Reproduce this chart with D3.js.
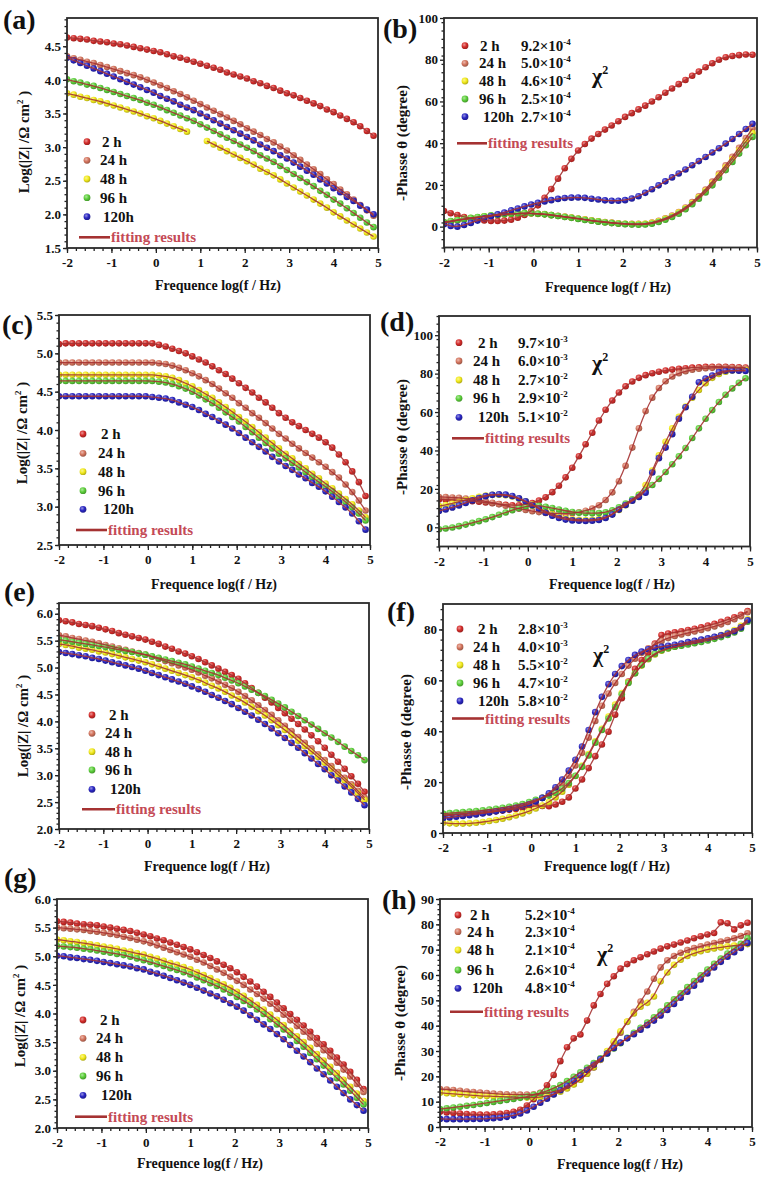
<!DOCTYPE html>
<html><head><meta charset="utf-8">
<script src="https://cdn.jsdelivr.net/npm/d3@7/dist/d3.min.js"></script>
<style>
html,body{margin:0;padding:0;background:#fff;}
svg{display:block;}
text{font-family:"Liberation Serif","Times New Roman",serif;font-weight:bold;}
</style></head><body>
<svg id="chart" width="762" height="1178"></svg>
<script>
// ---------- frequency grid (log f / Hz) ----------
const logF=[-2.00,-1.85,-1.70,-1.55,-1.40,-1.25,-1.10,-0.95,-0.80,-0.65,-0.50,-0.35,-0.20,-0.05,0.10,0.25,0.40,0.55,0.70,0.85,1.00,1.15,1.30,1.45,1.60,1.75,1.90,2.05,2.20,2.35,2.50,2.65,2.80,2.95,3.10,3.25,3.40,3.55,3.70,3.85,4.00,4.15,4.30,4.45,4.60,4.75,4.90];

// ---------- panel (a) log|Z| ----------
const a2=[4.63,4.62,4.61,4.60,4.58,4.57,4.56,4.54,4.53,4.51, 4.49,4.47,4.45,4.43,4.41,4.38,4.35,4.33,4.30,4.27, 4.24,4.21,4.18,4.15,4.11,4.08,4.05,4.02,3.98,3.95, 3.91,3.88,3.84,3.80,3.77,3.73,3.69,3.65,3.61,3.56, 3.52,3.47,3.42,3.37,3.31,3.24,3.17];
const a24=[4.35,4.32,4.30,4.27,4.25,4.22,4.19,4.16,4.13,4.10, 4.07,4.04,4.00,3.96,3.92,3.88,3.83,3.79,3.74,3.69, 3.64,3.59,3.54,3.49,3.44,3.39,3.34,3.28,3.23,3.18, 3.12,3.07,3.01,2.95,2.88,2.81,2.74,2.67,2.60,2.52, 2.45,2.37,2.30,2.22,2.14,2.06,1.98];
const a48=[3.80,3.78,3.75,3.73,3.70,3.68,3.65,3.62,3.59,3.56, 3.53,3.50,3.46,3.43,3.39,3.35,3.31,3.27,3.23,null, null,3.09,3.04,2.99,2.94,2.89,2.84,2.79,2.74,2.68, 2.63,2.58,2.52,2.46,2.40,2.34,2.28,2.22,2.16,2.10, 2.03,1.97,1.91,1.85,1.79,1.73,1.67];
const a96=[4.01,3.98,3.96,3.93,3.91,3.88,3.85,3.82,3.79,3.76, 3.73,3.70,3.66,3.63,3.59,3.55,3.51,3.47,3.43,3.39, 3.34,3.29,3.24,3.19,3.14,3.09,3.04,2.99,2.94,2.88, 2.83,2.78,2.72,2.66,2.60,2.54,2.48,2.42,2.35,2.29, 2.22,2.16,2.09,2.02,1.95,1.88,1.81];
const a120=[4.33,4.29,4.25,4.21,4.17,4.13,4.09,4.05,4.01,3.97, 3.93,3.89,3.85,3.81,3.76,3.72,3.68,3.63,3.59,3.55, 3.50,3.45,3.40,3.35,3.30,3.25,3.20,3.15,3.10,3.04, 2.99,2.94,2.88,2.83,2.77,2.71,2.65,2.59,2.52,2.46, 2.39,2.33,2.26,2.20,2.13,2.07,2.00];

// ---------- panel (b) -phase ----------
const b2=[7.5,6.4,5.5,4.6,4.0,3.4,3.0,2.7,2.7,2.9, 3.3,4.3,5.6,7.4,10.2,13.8,18.0,23.0,28.0,32.5, 36.5,39.6,42.2,44.4,46.5,48.5,50.5,52.6,54.4,56.2, 58.0,60.0,62.0,64.2,66.2,68.3,70.3,72.3,74.3,76.4, 78.3,80.0,81.2,81.8,82.2,82.5,82.4];
const b24=[1.8,2.4,3.0,3.5,4.0,4.4,4.8,5.2,5.5,5.8, 6.1,6.3,6.4,6.4,6.2,6.0,5.6,5.2,4.8,4.4, 3.9,3.5,3.0,2.6,2.2,1.9,1.6,1.4,1.3,1.3, 1.4,1.9,2.8,4.0,5.3,7.0,9.2,11.8,14.6,17.8, 21.6,25.5,29.4,33.5,37.8,42.4,47.0];
const b48=[2.0,2.5,3.1,3.6,4.1,4.5,4.9,5.3,5.6,5.9, 6.1,6.3,6.4,6.3,6.1,5.9,5.5,5.1,4.7,4.3, 3.8,3.4,2.9,2.5,2.1,1.8,1.5,1.3,1.2,1.2, 1.3,1.8,2.6,3.7,5.0,6.7,8.8,11.3,14.1,17.2, 20.8,24.6,28.4,32.4,36.6,40.8,44.8];
const b96=[2.2,2.7,3.2,3.7,4.2,4.6,5.0,5.4,5.7,6.0, 6.2,6.4,6.5,6.4,6.2,5.9,5.5,5.1,4.6,4.2, 3.7,3.2,2.8,2.4,2.0,1.7,1.4,1.2,1.0,0.9, 1.0,1.4,2.2,3.3,4.6,6.2,8.3,10.7,13.4,16.4, 19.8,23.4,27.1,31.0,35.0,39.0,43.0];
const b120=[1.2,0.3,0.0,0.8,1.8,2.9,4.0,5.0,5.9,6.8, 7.8,8.7,9.7,10.6,11.4,12.1,12.7,13.3,13.7,13.9, 14.0,13.8,13.4,13.0,12.6,12.4,12.4,12.7,13.5,14.6, 16.2,17.9,19.8,21.7,23.6,25.5,27.4,29.4,31.4,33.4, 35.5,37.6,39.8,42.0,44.4,46.8,49.3];

// ---------- panel (c) log|Z| ----------
const c2=[5.12,5.13,5.13,5.13,5.13,5.13,5.13,5.13,5.13,5.13, 5.13,5.13,5.13,5.13,5.13,5.11,5.09,5.06,5.03,5.00, 4.96,4.92,4.88,4.83,4.78,4.73,4.67,4.61,4.55,4.49, 4.42,4.36,4.29,4.22,4.16,4.10,4.05,4.00,3.95,3.90, 3.84,3.77,3.68,3.58,3.46,3.32,3.14];
const c24=[4.88,4.88,4.88,4.88,4.88,4.88,4.88,4.88,4.88,4.88, 4.88,4.88,4.88,4.88,4.88,4.87,4.86,4.84,4.81,4.78, 4.74,4.70,4.65,4.60,4.54,4.48,4.42,4.35,4.29,4.22, 4.16,4.09,4.02,3.95,3.89,3.82,3.76,3.70,3.64,3.58, 3.52,3.45,3.38,3.29,3.19,3.08,2.95];
const c48=[4.72,4.72,4.72,4.72,4.72,4.72,4.72,4.72,4.72,4.72, 4.72,4.72,4.72,4.72,4.72,4.71,4.70,4.68,4.65,4.61, 4.57,4.52,4.47,4.42,4.36,4.30,4.24,4.17,4.11,4.04, 3.97,3.90,3.83,3.76,3.69,3.63,3.56,3.50,3.43,3.37, 3.30,3.24,3.17,3.10,3.03,2.95,2.86];
const c96=[4.64,4.64,4.64,4.64,4.64,4.64,4.64,4.64,4.64,4.64, 4.64,4.64,4.64,4.64,4.64,4.63,4.62,4.60,4.57,4.54, 4.50,4.45,4.40,4.35,4.29,4.23,4.17,4.11,4.04,3.97, 3.90,3.83,3.76,3.69,3.63,3.57,3.51,3.45,3.38,3.32, 3.26,3.20,3.13,3.06,2.99,2.91,2.82];
const c120=[4.44,4.44,4.44,4.44,4.44,4.44,4.44,4.44,4.44,4.44, 4.44,4.44,4.44,4.44,4.43,4.42,4.41,4.39,4.36,4.33, 4.30,4.26,4.21,4.17,4.12,4.07,4.02,3.96,3.90,3.84, 3.78,3.72,3.65,3.59,3.53,3.48,3.42,3.37,3.31,3.26, 3.20,3.13,3.06,2.99,2.91,2.81,2.70];

// ---------- panel (d) -phase ----------
const d2=[14.5,14.4,14.3,14.1,13.9,13.6,13.3,12.9,12.5,12.1, 11.7,11.5,11.5,11.8,12.6,13.9,15.6,18.3,21.6,26.0, 31.0,37.0,43.2,49.2,55.6,61.2,66.0,70.2,73.4,75.9, 77.8,79.2,80.2,81.0,81.6,82.1,82.5,82.8,83.1,83.3, 83.5,83.6,83.6,83.5,83.4,83.3,83.2];
const d24=[15.8,15.7,15.5,15.3,15.0,14.6,14.1,13.5,12.8,12.0, 11.2,10.4,9.7,9.0,8.4,7.9,7.5,7.2,7.1,7.1, 7.3,7.8,8.6,9.8,11.5,14.2,18.2,24.0,32.0,41.5, 51.5,60.5,67.5,72.5,76.0,78.5,80.2,81.3,82.0,82.5, 82.8,83.0,83.1,83.1,83.0,82.9,82.8];
const d48=[11.0,11.6,12.4,13.3,14.2,15.1,15.9,16.5,16.9,17.0, 16.7,16.0,14.9,13.5,11.8,10.0,8.2,6.7,5.5,4.7, 4.2,3.9,3.8,3.9,4.3,5.2,6.8,9.0,11.5,14.0, 17.0,22.0,29.5,37.5,44.5,51.5,57.5,62.8,67.5,71.5, 75.0,77.8,79.8,81.0,81.6,81.8,81.8];
const d96=[-1.0,-0.6,-0.1,0.6,1.4,2.3,3.2,4.2,5.3,6.5, 7.7,8.9,10.0,10.9,11.3,11.2,10.7,10.0,9.3,8.6, 8.0,7.6,7.4,7.3,7.4,7.8,8.8,10.4,12.4,14.6, 16.8,19.3,22.0,25.2,28.8,32.8,37.0,41.3,46.5,51.5, 56.5,61.0,65.2,69.0,72.3,75.2,77.6];
const d120=[8.5,9.3,10.3,11.4,12.7,14.0,15.2,16.2,16.9,17.2, 17.0,16.3,15.1,13.5,11.6,9.6,7.6,6.0,4.8,4.0, 3.6,3.4,3.3,3.4,3.8,4.8,6.6,9.2,11.6,13.8, 15.8,18.0,28.5,36.0,41.5,48.5,56.5,62.5,68.0,75.5, 77.5,79.0,80.8,81.5,81.6,81.5,81.4];

// ---------- panel (e) log|Z| ----------
const e2=[5.88,5.86,5.84,5.81,5.79,5.77,5.74,5.71,5.68,5.64, 5.61,5.58,5.55,5.52,5.48,5.44,5.39,5.35,5.30,5.26, 5.21,5.16,5.10,5.04,4.98,4.92,4.86,4.79,4.71,4.62, 4.53,4.44,4.35,4.25,4.15,4.05,3.95,3.85,3.74,3.63, 3.51,3.38,3.25,3.12,2.98,2.84,2.69];
const e24=[5.60,5.58,5.55,5.53,5.50,5.48,5.45,5.42,5.39,5.36, 5.33,5.30,5.27,5.24,5.20,5.16,5.12,5.08,5.04,5.00, 4.96,4.91,4.85,4.80,4.74,4.68,4.62,4.55,4.47,4.39, 4.30,4.21,4.12,4.02,3.92,3.82,3.71,3.60,3.50,3.39, 3.28,3.17,3.06,2.95,2.83,2.71,2.58];
const e48=[5.44,5.42,5.40,5.37,5.35,5.33,5.30,5.28,5.25,5.22, 5.19,5.16,5.13,5.10,5.06,5.02,4.98,4.94,4.90,4.86, 4.82,4.77,4.72,4.66,4.61,4.55,4.48,4.42,4.35,4.27, 4.19,4.11,4.02,3.93,3.84,3.74,3.64,3.54,3.44,3.34, 3.23,3.12,3.01,2.90,2.79,2.67,2.54];
const e96=[5.52,5.50,5.48,5.46,5.44,5.42,5.40,5.38,5.36,5.33, 5.31,5.29,5.26,5.24,5.21,5.18,5.15,5.12,5.09,5.06, 5.02,4.98,4.94,4.90,4.86,4.81,4.76,4.71,4.65,4.59, 4.53,4.47,4.40,4.33,4.26,4.18,4.10,4.02,3.94,3.86, 3.78,3.70,3.62,3.53,3.45,3.37,3.28];
const e120=[5.29,5.27,5.25,5.23,5.21,5.18,5.16,5.13,5.10,5.07, 5.04,5.01,4.98,4.94,4.90,4.86,4.82,4.78,4.74,4.70, 4.65,4.60,4.55,4.49,4.44,4.38,4.32,4.25,4.18,4.11, 4.03,3.95,3.87,3.78,3.69,3.60,3.51,3.41,3.31,3.21, 3.11,3.00,2.90,2.79,2.68,2.56,2.44];

// ---------- panel (f) -phase ----------
const f2=[6.8,7.0,7.1,7.3,7.5,7.7,7.9,8.2,8.5,8.8, 9.1,9.4,9.8,10.3,10.7,10.6,10.5,11.2,12.3,14.0, 17.5,21.0,25.5,30.2,34.8,39.8,46.5,53.0,59.5,64.5, 68.0,70.8,74.5,77.8,78.4,78.9,79.3,79.8,80.3,80.8, 81.5,82.2,83.0,83.8,84.8,85.8,87.2];
const f24=[7.0,7.2,7.4,7.6,7.8,8.0,8.3,8.6,8.9,9.3, 9.7,10.2,10.8,11.6,12.6,13.8,15.3,17.2,19.5,22.5, 26.5,31.5,37.5,44.0,50.0,54.8,59.0,62.5,65.8,68.5, 70.8,72.6,74.0,75.5,76.6,77.4,78.0,78.6,79.2,79.8, 80.5,81.2,82.0,82.9,84.0,85.2,86.8];
const f48=[4.0,3.8,3.7,3.7,3.8,4.0,4.3,4.7,5.1,5.6, 6.2,6.9,7.7,8.6,9.6,10.8,12.2,14.0,16.2,19.0, 22.4,26.4,31.0,36.0,41.0,45.8,50.5,55.0,59.2,62.8, 65.8,68.3,70.2,71.6,72.5,73.2,73.8,74.4,75.0,75.6, 76.3,77.0,77.8,78.7,79.8,81.4,84.0];
const f96=[7.6,7.8,8.0,8.2,8.4,8.6,8.9,9.2,9.5,9.9, 10.3,10.8,11.4,12.2,13.0,13.8,14.7,15.8,17.4,19.6, 22.5,26.0,30.5,35.5,40.5,45.0,49.5,54.5,59.0,62.8, 66.0,68.6,70.5,71.8,72.6,73.2,73.6,74.1,74.6,75.1, 75.7,76.3,77.0,77.8,78.8,80.3,83.0];
const f120=[5.8,6.1,6.4,6.7,7.0,7.3,7.7,8.1,8.5,8.9, 9.4,9.9,10.5,11.3,12.4,13.8,15.6,18.0,21.0,24.5, 28.8,34.0,40.5,47.5,53.5,58.5,62.5,65.6,68.0,70.0, 71.3,72.2,72.8,73.2,73.6,74.0,74.5,75.0,75.5,76.0, 76.5,77.1,77.7,78.4,79.3,80.8,83.6];

// ---------- panel (g) log|Z| ----------
const g2=[5.61,5.60,5.59,5.57,5.56,5.55,5.54,5.52,5.50,5.48, 5.46,5.44,5.41,5.38,5.35,5.31,5.28,5.24,5.20,5.16, 5.12,5.07,5.02,4.97,4.91,4.85,4.79,4.72,4.64,4.56, 4.47,4.38,4.29,4.19,4.09,3.99,3.89,3.79,3.68,3.57, 3.46,3.35,3.23,3.11,2.98,2.84,2.68];
const g24=[5.50,5.49,5.48,5.47,5.46,5.44,5.43,5.41,5.39,5.37, 5.34,5.32,5.29,5.26,5.23,5.19,5.15,5.11,5.07,5.03, 4.99,4.94,4.89,4.83,4.77,4.71,4.64,4.57,4.50,4.42, 4.34,4.26,4.17,4.08,3.98,3.88,3.78,3.68,3.58,3.47, 3.36,3.25,3.14,3.02,2.90,2.77,2.63];
const g48=[5.29,5.28,5.26,5.25,5.23,5.21,5.19,5.17,5.15,5.13, 5.10,5.08,5.05,5.03,4.99,4.96,4.92,4.88,4.85,4.81, 4.77,4.72,4.67,4.62,4.56,4.51,4.45,4.38,4.31,4.23, 4.15,4.07,3.98,3.89,3.80,3.70,3.60,3.50,3.40,3.29, 3.18,3.07,2.96,2.84,2.72,2.60,2.47];
const g96=[5.18,5.17,5.16,5.15,5.13,5.12,5.10,5.08,5.06,5.04, 5.02,4.99,4.96,4.93,4.90,4.86,4.83,4.79,4.76,4.72, 4.68,4.63,4.58,4.53,4.48,4.42,4.36,4.29,4.22,4.15, 4.07,3.99,3.90,3.81,3.72,3.62,3.52,3.42,3.31,3.20, 3.09,2.98,2.87,2.76,2.65,2.53,2.41];
const g120=[5.01,5.00,4.98,4.97,4.95,4.94,4.92,4.90,4.88,4.86, 4.84,4.82,4.79,4.77,4.73,4.70,4.66,4.62,4.58,4.54, 4.50,4.45,4.40,4.35,4.30,4.24,4.18,4.12,4.05,3.97, 3.89,3.81,3.73,3.64,3.55,3.45,3.35,3.25,3.15,3.04, 2.94,2.83,2.72,2.61,2.50,2.40,2.30];

// ---------- panel (h) -phase ----------
const h2=[6.0,5.7,5.5,5.3,5.1,5.0,4.9,4.9,5.0,5.2, 5.5,6.0,6.8,8.5,11.0,13.5,16.5,20.5,26.0,31.5, 35.0,36.5,42.0,48.0,52.5,56.5,59.5,62.5,64.3,65.8, 67.0,68.2,69.3,70.4,71.3,72.0,72.8,73.6,74.5,75.3, 76.0,76.6,80.8,80.4,78.0,79.6,80.6];
const h24=[15.0,14.8,14.6,14.3,14.0,13.8,13.6,13.4,13.2,13.0, 12.9,12.8,12.8,12.8,12.9,13.1,13.4,13.9,14.6,15.6, 17.0,18.8,21.0,23.5,26.5,29.8,33.4,37.2,41.5,45.5, 49.5,53.5,58.5,63.0,65.8,67.5,68.8,69.8,70.6,71.3, 72.0,72.6,73.2,73.8,74.5,75.4,76.5];
const h48=[13.5,13.3,13.1,12.9,12.7,12.5,12.3,12.2,12.1,12.0, 11.9,11.8,11.7,11.6,11.6,11.8,12.2,12.9,13.9,15.2, 16.8,18.7,21.0,23.6,26.6,30.0,33.8,37.8,41.6,44.8, 47.5,49.0,51.5,57.5,61.0,64.0,66.0,67.5,68.6,69.4, 70.0,70.5,70.9,71.3,71.6,71.9,72.2];
const h96=[7.1,7.4,7.7,8.0,8.4,8.7,9.1,9.5,9.9,10.3, 10.7,11.1,11.5,12.0,12.6,13.3,14.2,15.3,16.6,18.1, 19.8,21.6,23.4,25.2,27.1,29.0,31.0,33.1,35.2,37.2, 39.2,41.2,43.3,45.6,48.0,50.4,52.8,55.2,57.6,59.9, 62.2,64.4,66.5,68.5,70.4,72.3,74.5];
const h120=[3.2,3.1,3.1,3.1,3.1,3.2,3.2,3.3,3.5,3.7, 4.0,4.5,5.3,6.5,8.0,9.6,11.2,12.8,14.5,16.3, 18.2,20.3,22.5,24.6,26.8,29.0,31.2,33.3,35.0,36.6, 38.4,40.2,42.0,44.0,46.2,48.6,51.0,53.4,55.8,58.2, 60.6,63.0,65.2,67.2,69.0,70.7,72.6];

// ---------- labels / ticks / chi-square ----------
const seriesLabels=["2 h","24 h","48 h","96 h","120h"];
const xTickValues=[-2,-1,0,1,2,3,4,5];
const zTicksA=[1.5,2.0,2.5,3.0,3.5,4.0,4.5];
const zTicksC=[2.5,3.0,3.5,4.0,4.5,5.0,5.5];
const zTicksE=[2.0,2.5,3.0,3.5,4.0,4.5,5.0,5.5,6.0];
const zTicksG=[2.0,2.5,3.0,3.5,4.0,4.5,5.0,5.5,6.0];
const phTicksB=[0,20,40,60,80,100];
const phTicksD=[0,20,40,60,80,100];
const phTicksF=[0,20,40,60,80];
const phTicksH=[0,10,20,30,40,50,60,70,80,90];
const chiMantB=[9.2,5.0,4.6,2.5,2.7], chiExpB=[-4,-4,-4,-4,-4];
const chiMantD=[9.7,6.0,2.7,2.9,5.1], chiExpD=[-3,-3,-2,-2,-2];
const chiMantF=[2.8,4.0,5.5,4.7,5.8], chiExpF=[-3,-3,-2,-2,-2];
const chiMantH=[5.2,2.3,2.1,2.6,4.8], chiExpH=[-4,-4,-4,-4,-4];
const xTitleText="Frequence log(f / Hz)";
const phTitleText="-Phasse \u03b8 (degree)";

// ---------- styles ----------
const colors=["#d42c2a","#d4755e","#f2ea1c","#5ccf3a","#2a26c2"];
const fitColor="#a53232";
const fitTextColor="#c44a56";

const svg=d3.select("#chart");
svg.append("rect").attr("width",762).attr("height",1178).attr("fill","#fff");
const defs=svg.append("defs");
colors.forEach((c,i)=>{
  const gr=defs.append("radialGradient").attr("id","gd"+i).attr("cx","38%").attr("cy","35%").attr("r","70%");
  gr.append("stop").attr("offset","0%").attr("stop-color",d3.interpolateRgb(c,"#fff")(0.5));
  gr.append("stop").attr("offset","50%").attr("stop-color",c);
  gr.append("stop").attr("offset","100%").attr("stop-color",d3.interpolateRgb(c,"#000")(0.3));
});

const panels=[
 {tag:"(a)",tagPos:[3,29],kind:"z",series:[a2,a24,a48,a96,a120],yDom:[1.5,4.92],yTicks:zTicksA,yMinor:0.1,
  box:{l:67,r:378,t:18,b:248},xTitle:[218,290],yTitle:[29,142],
  leg:{dx:87,rows:[141.7,160.3,179,197.7,216.7],off:[15,13,13,13,16],fitY:237.3,fx1:79,fx2:110}},
 {tag:"(b)",tagPos:[383,38],kind:"p",series:[b2,b24,b48,b96,b120],yDom:[-10,100],yTicks:phTicksB,yMinor:4,
  box:{l:444,r:757,t:18,b:247.5},xTitle:[608,292],yTitle:[407,143],
  leg:{dx:465,rows:[45.7,63.3,81,99,116.7],off:[15,14,14,14,18],fitY:143.3,fx1:457,fx2:487,chiX:521,mant:chiMantB,exp:chiExpB,chi2:[592,83]}},
 {tag:"(c)",tagPos:[2,334],kind:"z",series:[c2,c24,c48,c96,c120],yDom:[2.5,5.5],yTicks:zTicksC,yMinor:0.1,
  box:{l:59,r:370,t:315,b:545},xTitle:[214,589],yTitle:[27,433],
  leg:{dx:83,rows:[434,453.3,471.7,490.7,509.3],off:[18,15,15,15,20],fitY:530,fx1:76,fx2:107}},
 {tag:"(d)",tagPos:[380,331],kind:"p",series:[d2,d24,d48,d96,d120],yDom:[-10,110],yTicks:phTicksD,yMinor:4,
  box:{l:439,r:750,t:316,b:546.5},xTitle:[612,589],yTitle:[407,437],
  leg:{dx:459,rows:[342.7,361,380,398.3,417.3],off:[19,14,14,14,19],fitY:438.3,fx1:452,fx2:484,chiX:518,mant:chiMantD,exp:chiExpD,chi2:[592,370]}},
 {tag:"(e)",tagPos:[4,601],kind:"z",series:[e2,e24,e48,e96,e120],yDom:[2.0,6.2],yTicks:zTicksE,yMinor:0.1,
  box:{l:59,r:369,t:603,b:829},xTitle:[207,871],yTitle:[28,726],
  leg:{dx:92,rows:[715,733.3,751.7,770,789.3],off:[17,13,13,13,18],fitY:809.3,fx1:82,fx2:115}},
 {tag:"(f)",tagPos:[387,621],kind:"p",series:[f2,f24,f48,f96,f120],yDom:[0,90],yTicks:phTicksF,yMinor:4,
  box:{l:443,r:752,t:604,b:833},xTitle:[607,871],yTitle:[411,732],
  leg:{dx:460,rows:[629,647,665,683,701],off:[18,13,13,13,18],fitY:718.5,fx1:452,fx2:484,chiX:518,mant:chiMantF,exp:chiExpF,chi2:[593,662]}},
 {tag:"(g)",tagPos:[4,887],kind:"z",series:[g2,g24,g48,g96,g120],yDom:[2.0,6.0],yTicks:zTicksG,yMinor:0.1,
  box:{l:57,r:368,t:899,b:1128},xTitle:[200,1168],yTitle:[25,1016],
  leg:{dx:83,rows:[1020,1038.3,1057.3,1076,1095.3],off:[17,13,13,13,18],fitY:1116.7,fx1:75,fx2:107}},
 {tag:"(h)",tagPos:[382,909],kind:"p",series:[h2,h24,h48,h96,h120],yDom:[0,90],yTicks:phTicksH,yMinor:2,
  box:{l:440,r:752,t:899,b:1127},xTitle:[620,1169],yTitle:[405,1023],
  leg:{dx:458,rows:[915,931.7,950,970,988.3],off:[12,9,9,9,14],fitY:1011.7,fx1:450,fx2:483,chiX:525,mant:chiMantH,exp:chiExpH,chi2:[597,961]}}
];

function drawPanel(p){
  const b=p.box;
  const x=d3.scaleLinear().domain([-2,5]).range([b.l,b.r]);
  const y=d3.scaleLinear().domain(p.yDom).range([b.b,b.t]);
  const g=svg.append("g");
  const clipId="clip"+p.tag.replace(/[()]/g,"");
  defs.append("clipPath").attr("id",clipId).append("rect").attr("x",b.l).attr("y",b.t).attr("width",b.r-b.l).attr("height",b.b-b.t);
  const plot=g.append("g").attr("clip-path",`url(#${clipId})`);
  p.series.forEach((arr,si)=>{
    const pts=logF.map((f,i)=>[f,arr[i]]).filter(d=>d[1]!=null);
    plot.append("g").selectAll("circle").data(pts).join("circle")
      .attr("cx",d=>x(d[0])).attr("cy",d=>y(d[1])).attr("r",3.3)
      .attr("fill",`url(#gd${si})`);
  });
  const line=d3.line().defined(d=>d[1]!=null).x(d=>x(d[0])).y(d=>y(d[1])).curve(d3.curveBasis);
  p.series.forEach(arr=>{
    plot.append("path").attr("d",line(logF.map((f,i)=>[f,arr[i]])))
      .attr("fill","none").attr("stroke",fitColor).attr("stroke-width",1.3).attr("opacity",0.9);
  });
  const fmtY=p.kind==="z"?(d=>d.toFixed(1)):(d=>String(d));
  const xMinor=d3.range(-2,5.0001,0.2);
  const yMinor=d3.range(p.yDom[0],p.yDom[1]+1e-6,p.yMinor).map(v=>+v.toFixed(3));
  const styleAxis=sel=>{
    sel.select(".domain").remove();
    sel.selectAll("line").attr("stroke","#222").attr("stroke-width",1.3);
    sel.selectAll("text").attr("font-size",13).attr("fill","#111")
      .attr("font-family",'"Liberation Serif","Times New Roman",serif').attr("font-weight","bold");
  };
  g.append("g").attr("transform",`translate(0,${b.b})`)
    .call(d3.axisBottom(x).tickValues(xMinor).tickSize(3).tickFormat("")).call(styleAxis);
  g.append("g").attr("transform",`translate(0,${b.b})`)
    .call(d3.axisBottom(x).tickValues(xTickValues).tickSize(5).tickPadding(5).tickFormat(d=>String(d))).call(styleAxis);
  g.append("g").attr("transform",`translate(${b.l},0)`)
    .call(d3.axisLeft(y).tickValues(yMinor).tickSize(2.5).tickFormat("")).call(styleAxis);
  g.append("g").attr("transform",`translate(${b.l},0)`)
    .call(d3.axisLeft(y).tickValues(p.yTicks).tickSize(4).tickPadding(2).tickFormat(fmtY)).call(styleAxis);
  g.append("rect").attr("x",b.l).attr("y",b.t).attr("width",b.r-b.l).attr("height",b.b-b.t)
    .attr("fill","none").attr("stroke","#2a2a2a").attr("stroke-width",1.8);
  g.append("text").attr("x",p.xTitle[0]).attr("y",p.xTitle[1]).attr("text-anchor","middle")
    .attr("font-size",14).attr("fill","#111").text(xTitleText);
  const yt=g.append("text").attr("transform",`translate(${p.yTitle[0]},${p.yTitle[1]}) rotate(-90)`)
    .attr("text-anchor","middle").attr("font-size",15).attr("fill","#111");
  if(p.kind==="z"){
    yt.append("tspan").text("Log(|Z| /\u03a9 cm");
    yt.append("tspan").attr("dy",-6).attr("font-size",9).text("2");
    yt.append("tspan").attr("dy",6).text(" )");
  } else {
    yt.text(phTitleText);
  }
  g.append("text").attr("x",p.tagPos[0]).attr("y",p.tagPos[1]).attr("font-size",28).attr("fill","#111").text(p.tag);
  const L=p.leg;
  p.series.forEach((_,si)=>{
    const yy=L.rows[si];
    g.append("circle").attr("cx",L.dx).attr("cy",yy).attr("r",3.4).attr("fill",`url(#gd${si})`);
    g.append("text").attr("x",L.dx+L.off[si]).attr("y",yy+5).attr("font-size",15).attr("fill","#111").text(seriesLabels[si]);
    if(L.chiX){
      const t=g.append("text").attr("x",L.chiX).attr("y",yy+5).attr("font-size",15).attr("fill","#111");
      t.append("tspan").text(L.mant[si].toFixed(1)+"\u00d710");
      t.append("tspan").attr("dy",-6).attr("font-size",9).text(String(L.exp[si]));
    }
  });
  g.append("line").attr("x1",L.fx1).attr("x2",L.fx2).attr("y1",L.fitY).attr("y2",L.fitY)
    .attr("stroke",fitColor).attr("stroke-width",2.6);
  g.append("text").attr("x",L.fx2+1).attr("y",L.fitY+5).attr("font-size",15).attr("fill",fitTextColor).text("fitting results");
  if(L.chi2){
    const c=g.append("text").attr("x",L.chi2[0]).attr("y",L.chi2[1]).attr("font-size",22).attr("fill","#111");
    c.append("tspan").text("\u03c7");
    c.append("tspan").attr("dy",-9).attr("font-size",12).text("2");
  }
}
panels.forEach(drawPanel);
</script>
</body></html>
